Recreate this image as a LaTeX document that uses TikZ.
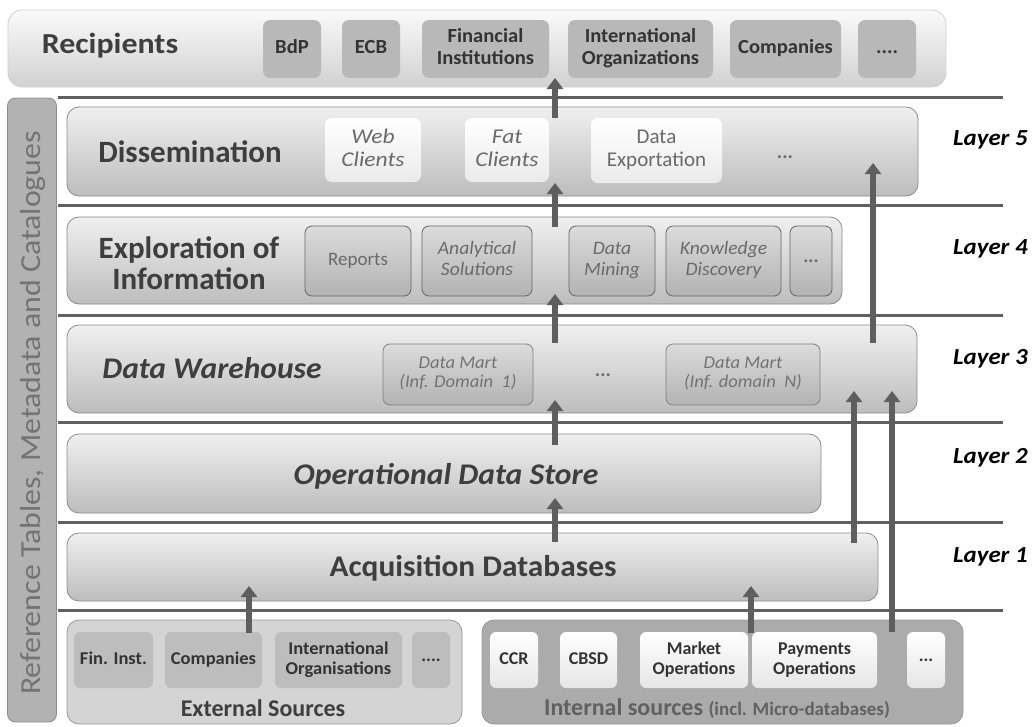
\documentclass[tikz,border=0pt]{standalone}
\usepackage{fontspec}
\usepackage{graphicx}
\setmainfont{Carlito}
\usetikzlibrary{arrows.meta}
\definecolor{txtdark}{HTML}{3E3E3E}
\definecolor{txtmid}{HTML}{6A6A6A}
\definecolor{linegray}{HTML}{606060}
\definecolor{arrgray}{HTML}{5E5E5E}
\newcommand{\fs}[2]{\fontsize{#1}{#2}\selectfont}
\newcommand{\sx}[2]{\scalebox{#1}[1]{\begin{tabular}{@{}c@{}}#2\end{tabular}}}
\tikzset{
  layerbox/.style={draw=black!45, rounded corners=12pt, top color=black!6, bottom color=black!26, line width=0.8pt},
  recbox/.style={draw=black!18, rounded corners=14pt, top color=black!2, bottom color=black!18, line width=0.8pt},
  recsub/.style={fill=black!28, rounded corners=7pt, text=black!80, font=\bfseries\fs{20}{22}, inner sep=0pt},
  dissub/.style={rounded corners=7pt, top color=white, bottom color=black!8, text=txtmid, font=\itshape\fs{21}{23}, inner sep=0pt},
  expsub/.style={draw=black!60, rounded corners=7pt, top color=black!14, bottom color=black!30, text=txtmid, font=\itshape\fs{19}{21}, line width=0.8pt, inner sep=0pt},
  dmsub/.style={draw=black!50, rounded corners=7pt, top color=black!14, bottom color=black!30, text=black!55, font=\itshape\fs{18}{19}, line width=0.8pt, inner sep=0pt},
  extbox/.style={draw=black!40, rounded corners=12pt, fill=black!17, line width=0.8pt},
  extsub/.style={fill=black!26, rounded corners=6pt, text=black!80, font=\bfseries\fs{18}{20}, inner sep=0pt},
  intbox/.style={draw=black!40, rounded corners=12pt, fill=black!33, line width=0.8pt},
  intsub/.style={rounded corners=6pt, top color=white, bottom color=black!10, text=black!80, font=\bfseries\fs{18}{20}, inner sep=0pt},
  sidebar/.style={draw=black!45, rounded corners=8pt, fill=black!30, line width=0.8pt},
  title/.style={text=txtdark, font=\bfseries\fs{31}{31}, anchor=base, inner sep=0pt},
  layerlbl/.style={text=black, font=\bfseries\itshape\fs{23}{23}, anchor=base west, inner sep=0pt},
  sep/.style={draw=linegray, line width=3pt},
  arr/.style={draw=arrgray, line width=6.5pt, -{Triangle[width=16pt,length=11pt]}, shorten >=-1pt},
}
\begin{document}
\begin{tikzpicture}[x=1pt,y=-1pt]
\useasboundingbox (0,0) rectangle (1035,726);
\fill[white] (0,0) rectangle (1035,726);

% separators
\foreach \yy/\nm in {97/s5,205/s4,315/s3,422/s2,522/s1,610/s0}{
  \coordinate (\nm l) at (58,\yy);
  \coordinate (\nm r) at (1003,\yy);
  \draw[sep] (\nm l) -- (\nm r);
}

% recipients
\node[recbox, minimum width=938, minimum height=77] (rec) at (477,48.5) {};
\node[title, font=\bfseries\fs{29}{29}] (rect) at (110,53) {\scalebox{1.1}[1]{Recipients}};
\node[recsub, minimum width=58, minimum height=58] (bdp) at (292,49) {\sx{1.03}{BdP}};
\node[recsub, minimum width=58, minimum height=58] (ecb) at (371,49) {\sx{1.03}{ECB}};
\node[recsub, minimum width=127, minimum height=58] (fin) at (485.5,49) {\sx{1.03}{Financial\\Institutions}};
\node[recsub, minimum width=145, minimum height=58] (iorg) at (640.5,49) {\sx{1.03}{International\\Organizations}};
\node[recsub, minimum width=111, minimum height=58] (comp) at (785.5,49) {\sx{1.03}{Companies}};
\node[recsub, minimum width=58, minimum height=58] (rdots) at (887,49) {\sx{1.03}{....}};

% side bar
\node[sidebar, minimum width=49, minimum height=624] (side) at (32,410) {};
\node[rotate=90, text=black!55, font=\fs{29}{29}] (sidet) at (33,413) {\scalebox{1.1}[1]{Reference Tables, Metadata and Catalogues}};

% layer 5
\node[layerbox, minimum width=851, minimum height=89] (dis) at (492.5,151.5) {};
\node[title] (dist) at (190,162) {Dissemination};
\node[dissub, minimum width=96, minimum height=64] (web) at (373,150) {\sx{1.12}{Web\\Clients}};
\node[dissub, minimum width=84, minimum height=64] (fat) at (507,150) {\sx{1.12}{Fat\\Clients}};
\node[dissub, font=\fs{21}{23}, minimum width=131, minimum height=65] (dexp) at (656.5,150.5) {\sx{1.0}{Data\\Exportation}};
\node[text=txtmid, font=\bfseries\fs{20}{20}] (ddots) at (785,157) {...};

% layer 4
\node[layerbox, minimum width=775, minimum height=87] (exp) at (454.5,260.5) {};
\node[title, align=center, font=\bfseries\fs{31}{31}] (expt) at (189,289) {Exploration of\\Information};
\node[expsub, font=\fs{19}{21}, minimum width=106, minimum height=70] (rep) at (358,261) {\sx{1.0}{Reports}};
\node[expsub, minimum width=110, minimum height=70] (ana) at (477,261) {\sx{1.03}{Analytical\\Solutions}};
\node[expsub, minimum width=86, minimum height=70] (dmin) at (612,261) {\sx{1.03}{Data\\Mining}};
\node[expsub, minimum width=115, minimum height=70] (kdis) at (723.5,261) {\sx{1.03}{Knowledge\\Discovery}};
\node[expsub, font=\bfseries\fs{19}{21}, minimum width=42, minimum height=70] (edots) at (811,261) {...};

% layer 3
\node[layerbox, minimum width=850, minimum height=88] (dw) at (492,369) {};
\node[title, font=\bfseries\itshape\fs{30}{30}] (dwt) at (212,378) {\scalebox{1.05}[1]{Data Warehouse}};
\node[dmsub, minimum width=150, minimum height=61] (dm1) at (458,374.5) {\sx{1.03}{Data Mart\\(Inf. Domain\ \ 1)}};
\node[text=txtmid, font=\bfseries\fs{20}{20}] (dwdots) at (603,375) {...};
\node[dmsub, minimum width=154, minimum height=61] (dmn) at (743,374.5) {\sx{1.03}{Data Mart\\(Inf. domain\ \ N)}};

% layer 2
\node[layerbox, minimum width=754, minimum height=79] (ods) at (444,473.5) {};
\node[title, font=\bfseries\itshape\fs{30}{30}] (odst) at (446,484) {\scalebox{1.055}[1]{Operational Data Store}};

% layer 1
\node[layerbox, minimum width=811, minimum height=68] (acq) at (472.5,567) {};
\node[title, font=\bfseries\fs{30}{30}] (acqt) at (473,576) {\scalebox{1.045}[1]{Acquisition Databases}};

% sources
\node[extbox, minimum width=395, minimum height=104] (ext) at (264.5,672) {};
\node[extsub, minimum width=79, minimum height=56] (efin) at (113.5,660) {\sx{1.03}{Fin. Inst.}};
\node[extsub, minimum width=97, minimum height=56] (ecomp) at (213.5,660) {\sx{1.03}{Companies}};
\node[extsub, minimum width=127, minimum height=56] (eorg) at (338.5,660) {\sx{1.03}{International\\Organisations}};
\node[extsub, minimum width=38, minimum height=56] (edots2) at (431,660) {....};
\node[title, font=\bfseries\fs{24}{24}] (extt) at (263,716) {External Sources};

\node[intbox, minimum width=481, minimum height=104] (int) at (722.5,672) {};
\node[intsub, minimum width=48, minimum height=56] (ccr) at (514,660) {\sx{1.0}{CCR}};
\node[intsub, minimum width=57, minimum height=56] (cbsd) at (588.5,660) {\sx{1.0}{CBSD}};
\node[intsub, minimum width=108, minimum height=56] (mkt) at (694,660) {\sx{1.0}{Market\\Operations}};
\node[intsub, minimum width=125, minimum height=56] (pay) at (814.5,660) {\sx{1.0}{Payments\\Operations}};
\node[intsub, minimum width=38, minimum height=56] (idots) at (926,660) {...};
\node[title, text=black!62, font=\bfseries\fs{24}{24}] (intt) at (717,715) {Internal sources {\fs{19}{19}(incl. Micro-databases)}};

% layer labels
\node[layerlbl] (l5) at (953,145) {\scalebox{1.08}[1]{Layer 5}};
\node[layerlbl] (l4) at (953,254) {\scalebox{1.08}[1]{Layer 4}};
\node[layerlbl] (l3) at (953,364) {\scalebox{1.08}[1]{Layer 3}};
\node[layerlbl] (l2) at (953,463) {\scalebox{1.08}[1]{Layer 2}};
\node[layerlbl] (l1) at (953,562) {\scalebox{1.08}[1]{Layer 1}};

% arrow endpoints
\coordinate (a1s) at (555,118); \coordinate (a1e) at (555,79);
\coordinate (a2s) at (555,227); \coordinate (a2e) at (555,184);
\coordinate (a3s) at (555,343); \coordinate (a3e) at (555,295);
\coordinate (a4s) at (555,445); \coordinate (a4e) at (555,401);
\coordinate (a5s) at (555,542); \coordinate (a5e) at (555,499);
\coordinate (a6s) at (249,633); \coordinate (a6e) at (249,587);
\coordinate (a7s) at (751,633); \coordinate (a7e) at (751,587);
\coordinate (a8s) at (854,543); \coordinate (a8e) at (854,392);
\coordinate (a9s) at (892,632); \coordinate (a9e) at (892,392);
\coordinate (a10s) at (873,343); \coordinate (a10e) at (873,164);
\foreach \i in {1,...,10}{ \draw[arr] (a\i s) -- (a\i e); }
\end{tikzpicture}
\end{document}
